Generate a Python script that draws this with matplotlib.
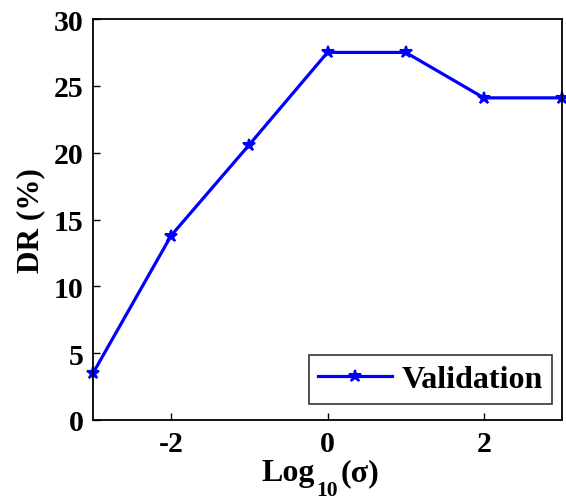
import matplotlib
matplotlib.use("Agg")
import matplotlib.pyplot as plt

x_vals = [-3, -2, -1, 0, 1, 2, 3]
dr_vals = [3.5, 13.8, 20.6, 27.5, 27.5, 24.1, 24.1]
series_label = "Validation"

plt.rcParams['font.family'] = ['Liberation Serif', 'DejaVu Serif']
plt.rcParams['font.weight'] = 'bold'
plt.rcParams['axes.unicode_minus'] = False

W, H = 566, 502
fig = plt.figure(figsize=(W / 100, H / 100), dpi=100)
ax = fig.add_axes([93 / W, 81 / H, 469 / W, 401 / H])
ax.plot(x_vals, dr_vals, color='#0000ff', linewidth=2.3, marker='*', markersize=9,
        markeredgewidth=1.5, label=series_label, clip_on=False)
ax.set_xlim(-3, 3)
ax.set_ylim(0, 30)
ax.set_xticks([-2, 0, 2])
ax.set_yticks([0, 5, 10, 15, 20, 25, 30])
ax.tick_params(axis='both', direction='in', length=5, width=1, labelsize=21.5,
               top=False, right=False)
ax.tick_params(axis='y', pad=7)
ax.tick_params(axis='x', pad=7)
for lab in ax.get_xticklabels() + ax.get_yticklabels():
    lab.set_fontweight('bold')
for s in ax.spines.values():
    s.set_linewidth(1.3)

# x label: Log_10(σ) built from pieces to mimic the large subscript
fig.text(262 / W, 21 / H, 'Log', fontsize=23, fontweight='bold', ha='left', va='baseline')
fig.text(316 / W, 6 / H, '10', fontsize=15.5, fontweight='bold', ha='left', va='baseline')
fig.text(341 / W, 21 / H, '(σ)', fontsize=23, fontweight='bold', ha='left', va='baseline')

ax.set_ylabel('DR (%)', fontsize=22.5, fontweight='bold', labelpad=6)
leg = ax.legend(loc='lower right', fontsize=23, frameon=True, fancybox=False,
                edgecolor='black', handlelength=2.3, handletextpad=0.3,
                borderpad=0.3, borderaxespad=0,
                bbox_to_anchor=(459 / 469, 16 / 401))
leg.get_frame().set_linewidth(1.2)
for t in leg.get_texts():
    t.set_fontweight('bold')
fig.savefig('out.png', dpi=100)
